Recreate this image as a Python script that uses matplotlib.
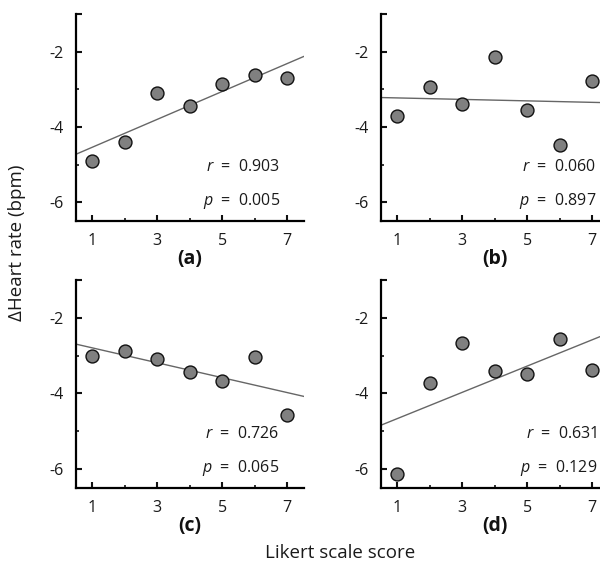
import numpy as np
import matplotlib
matplotlib.use("Agg")
import matplotlib.pyplot as plt
from matplotlib.ticker import FixedLocator

plt.rcParams["font.family"] = ["Open Sans", "DejaVu Sans"]
plt.rcParams["axes.unicode_minus"] = False
plt.rcParams["mathtext.fontset"] = "custom"
plt.rcParams["mathtext.it"] = "Open Sans:italic"
plt.rcParams["mathtext.rm"] = "Open Sans"

# Likert score vs change of heart rate, four conditions
scores = [1, 2, 3, 4, 5, 6, 7]
hr_a = [-4.90, -4.39, -3.09, -3.44, -2.86, -2.63, -2.69]
hr_b = [-3.70, -2.93, -3.40, -2.15, -3.56, -4.49, -2.79]
hr_c = [-3.02, -2.89, -3.08, -3.43, -3.68, -3.04, -4.56]
hr_d = [-6.13, -3.72, -2.67, -3.41, -3.48, -2.56, -3.39]
r_vals = ["0.903", "0.060", "0.726", "0.631"]
p_vals = ["0.005", "0.897", "0.065", "0.129"]
panel_tags = ["(a)", "(b)", "(c)", "(d)"]

series = [hr_a, hr_b, hr_c, hr_d]
# axes boxes in figure fractions [left, bottom, width, height]
W, H = 600, 563
boxes = [
    [76 / W, 1 - 221 / H, 227.5 / W, 207 / H],
    [381 / W, 1 - 221 / H, 227.5 / W, 207 / H],
    [76 / W, 1 - 488 / H, 227.5 / W, 208 / H],
    [381 / W, 1 - 488 / H, 227.5 / W, 208 / H],
]
txt_x = [6.78, 7.12, 6.75, 7.15]

fig = plt.figure(figsize=(6, 5.63), dpi=100)
for i, ys in enumerate(series):
    ax = fig.add_axes(boxes[i])
    ax.set_xlim(0.5, 7.5)
    ax.set_ylim(-6.5, -1)
    ax.spines["top"].set_visible(False)
    ax.spines["right"].set_visible(False)
    for s in ("left", "bottom"):
        ax.spines[s].set_linewidth(1.6)
    # fitted line
    k, b = np.polyfit(scores, ys, 1)
    xx = np.array([0.5, 7.5])
    ax.plot(xx, k * xx + b, color="#666666", lw=1.0, zorder=2)
    ax.plot(scores, ys, "o", ms=9.3, mfc="#808080", mec="#111111", mew=1.0,
            zorder=3, clip_on=False)
    ax.xaxis.set_major_locator(FixedLocator([1, 3, 5, 7]))
    ax.xaxis.set_minor_locator(FixedLocator([2, 4, 6]))
    ax.yaxis.set_major_locator(FixedLocator([-6, -4, -2, -1]))
    ax.yaxis.set_minor_locator(FixedLocator([-5, -3]))
    ax.set_yticklabels(["-6", "-4", "-2", ""])
    ax.tick_params(which="major", direction="in", length=4.5, width=1.5,
                   labelsize=11.5, color="#111111", labelcolor="#1a1a1a")
    ax.tick_params(which="minor", direction="in", length=2.2, width=1.2,
                   color="#111111")
    ax.tick_params(axis="y", which="major", pad=9)
    ax.tick_params(axis="x", which="major", pad=9)
    ax.text(txt_x[i], -5.06, f"$r$  =  {r_vals[i]}", ha="right", va="center",
            fontsize=11.5, color="#1a1a1a")
    ax.text(txt_x[i], -5.96, f"$p$  =  {p_vals[i]}", ha="right", va="center",
            fontsize=11.5, color="#1a1a1a")
    ax.text(4, -0.184, panel_tags[i], transform=ax.get_xaxis_transform(),
            ha="center", va="center", fontsize=14, fontweight="bold",
            color="#111111")

fig.text(17 / W, 1 - 243 / H, "\u0394Heart rate (bpm)", rotation=90,
         ha="center", va="center", fontsize=13.5, color="#1a1a1a")
fig.text(340 / W, 1 - 553 / H, "Likert scale score", ha="center",
         va="center", fontsize=13.5, color="#1a1a1a")

fig.savefig("out.png", dpi=100, facecolor="white")
